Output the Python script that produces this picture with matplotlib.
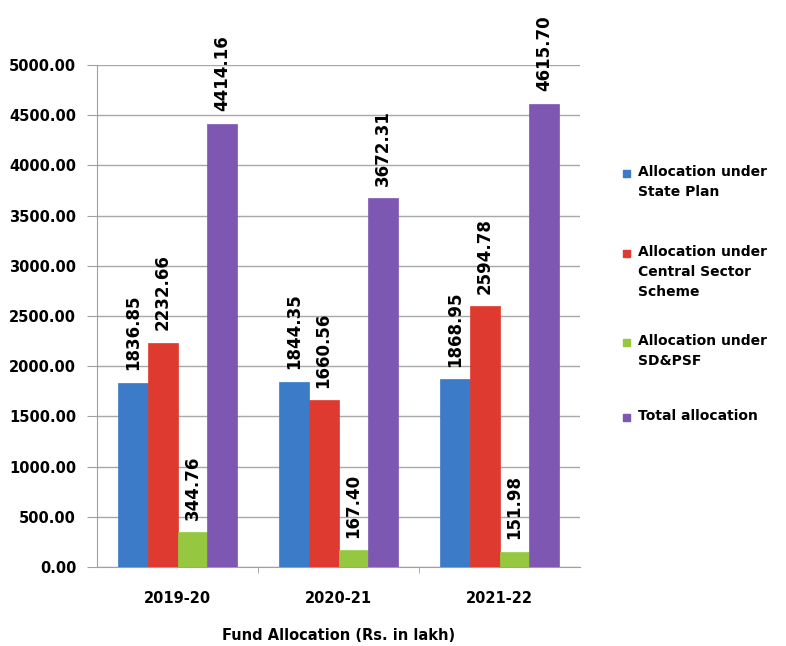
import matplotlib
matplotlib.use("Agg")
import matplotlib.pyplot as plt
import numpy as np
from matplotlib.patches import Rectangle

years = ["2019-20", "2020-21", "2021-22"]
series_names = ["Allocation under\nState Plan",
                "Allocation under\nCentral Sector\nScheme",
                "Allocation under\nSD&PSF",
                "Total allocation"]
state_plan = [1836.85, 1844.35, 1868.95]
central_sector = [2232.66, 1660.56, 2594.78]
sd_psf = [344.76, 167.40, 151.98]
total = [4414.16, 3672.31, 4615.70]
colors = ["#3B7BC8", "#DE3A2F", "#95C840", "#7E57B3"]

plt.rcParams['font.family'] = ['DejaVu Sans']
fig = plt.figure(figsize=(7.86, 6.46), dpi=100)
ax = fig.add_axes([0.1234, 0.1223, 0.6146, 0.7771])

x = np.arange(len(years))
w = 0.185
all_series = [state_plan, central_sector, sd_psf, total]
for i, (vals, c) in enumerate(zip(all_series, colors)):
    pos = x + (i - 1.5) * w
    bars = ax.bar(pos, vals, width=w, color=c, edgecolor=c, linewidth=0.5, zorder=3)
    for b, v in zip(bars, vals):
        ax.annotate(f"{v:.2f}", (b.get_x() + b.get_width() / 2, v),
                    xytext=(0, 9), textcoords="offset points",
                    rotation=90, ha="center", va="bottom",
                    fontsize=12, fontweight="bold", annotation_clip=False)

ax.set_xlim(-0.5, 2.5)
ax.set_ylim(0, 5000)
ax.set_yticks(np.arange(0, 5001, 500))
ax.set_yticklabels([f"{t:.2f}" for t in np.arange(0, 5001, 500)],
                   fontsize=10.5, fontweight="bold")
ax.set_xticks(x)
ax.set_xticklabels(years, fontsize=10.5, fontweight="bold")
ax.set_xticks([0.5, 1.5], minor=True)
ax.tick_params(axis="x", which="major", length=0, pad=17)
ax.tick_params(axis="x", which="minor", length=4, color="#A0A0A0")
ax.tick_params(axis="y", length=7, color="#A0A0A0", pad=8)
ax.grid(axis="y", color="#A8A8A8", linewidth=1.0, zorder=0)
for s in ["top", "right"]:
    ax.spines[s].set_visible(False)
for s in ["left", "bottom"]:
    ax.spines[s].set_color("#A0A0A0")
ax.set_xlabel("Fund Allocation (Rs. in lakh)", fontsize=10.5,
              fontweight="bold", labelpad=16)

# legend drawn by hand so the marker sits on the first line
leg_tops = [165, 245, 334, 409]
for name, c, ytop in zip(series_names, colors, leg_tops):
    fig.text(638 / 786, 1 - ytop / 646, name, fontsize=10, fontweight="bold",
             va="top", ha="left", linespacing=1.55)
    fig.add_artist(Rectangle((623 / 786, 1 - (ytop + 12) / 646), 7 / 786, 7 / 646,
                             transform=fig.transFigure, color=c))

fig.savefig("out.png", dpi=100)
